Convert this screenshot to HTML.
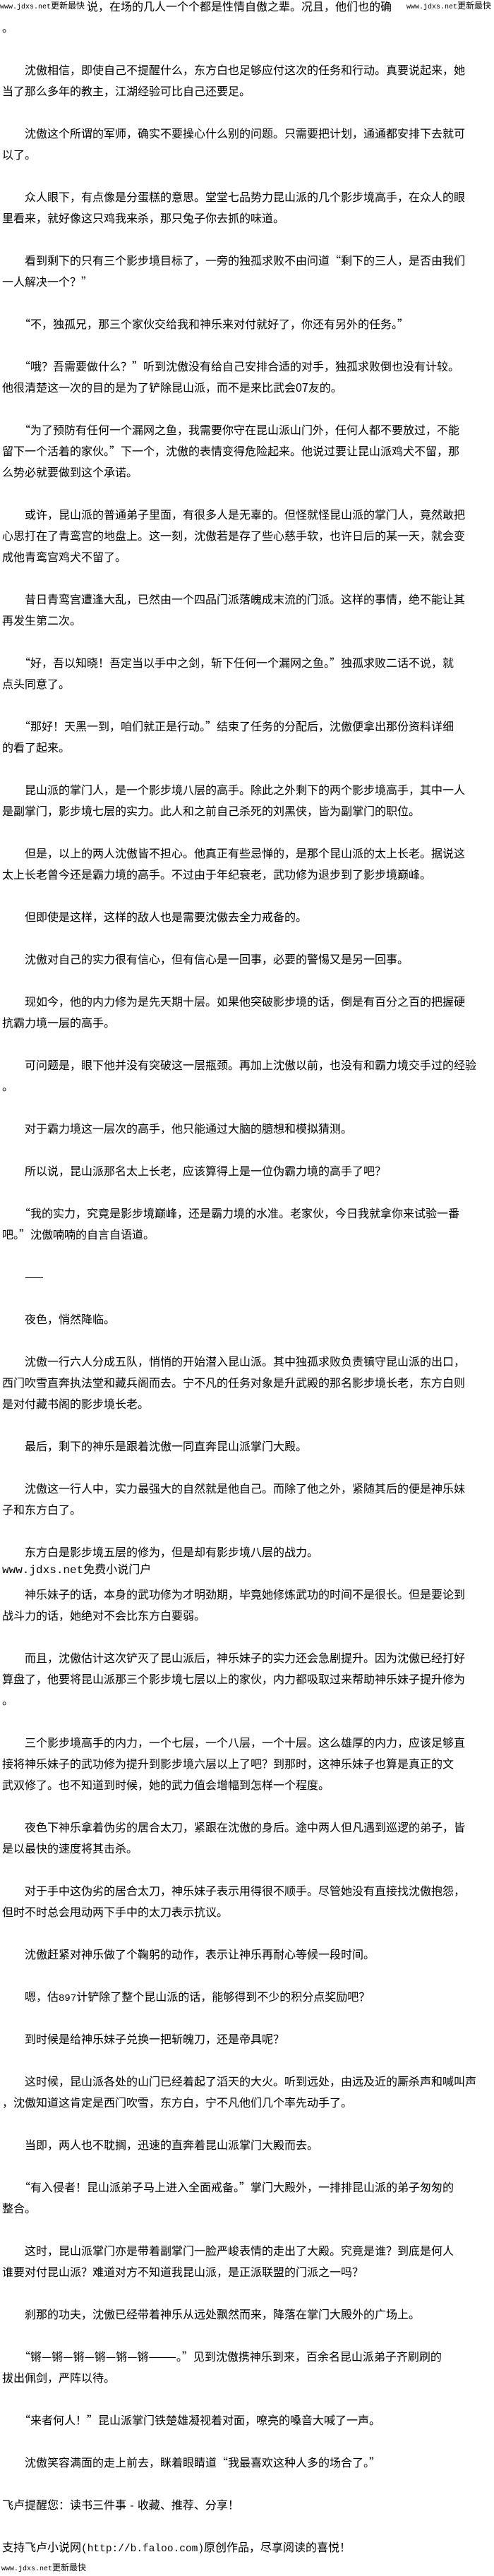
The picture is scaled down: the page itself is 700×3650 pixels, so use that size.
<!DOCTYPE html>
<html><head><meta charset="utf-8">
<style>
html,body{margin:0;padding:0;background:#fff;}
body{width:700px;height:3650px;position:relative;overflow:hidden;font-family:"Noto Sans CJK SC","Liberation Sans",sans-serif;color:#000;}
.l{position:absolute;left:3px;height:30px;line-height:30px;font-size:16px;white-space:pre;}
.m{font-family:"Liberation Mono","Noto Sans CJK SC",monospace;}
.wm{position:absolute;background:#fff;font-size:12px;line-height:16px;white-space:pre;}
.wm .m{font-size:10px;}
</style></head><body>
<div class="l" style="top:-7px;left:123px">说，在场的几人一个个都是性情自傲之辈。况且，他们也的确</div>
<div class="wm" style="top:0;left:0"><span class="m">www.jdxs.net</span>更新最快</div>
<div class="wm" style="top:0;left:576px;width:124px"><span class="m">www.jdxs.net</span>更新最快</div>
<div class="l" style="top:23px">。</div>
<div class="l" style="top:83px">　　沈傲相信，即使自己不提醒什么，东方白也足够应付这次的任务和行动。真要说起来，她</div>
<div class="l" style="top:113px">当了那么多年的教主，江湖经验可比自己还要足。</div>
<div class="l" style="top:173px">　　沈傲这个所谓的军师，确实不要操心什么别的问题。只需要把计划，通通都安排下去就可</div>
<div class="l" style="top:203px">以了。</div>
<div class="l" style="top:263px">　　众人眼下，有点像是分蛋糕的意思。堂堂七品势力昆山派的几个影步境高手，在众人的眼</div>
<div class="l" style="top:293px">里看来，就好像这只鸡我来杀，那只兔子你去抓的味道。</div>
<div class="l" style="top:353px">　　看到剩下的只有三个影步境目标了，一旁的独孤求败不由问道“剩下的三人，是否由我们</div>
<div class="l" style="top:383px">一人解决一个？”</div>
<div class="l" style="top:443px">　　“不，独孤兄，那三个家伙交给我和神乐来对付就好了，你还有另外的任务。”</div>
<div class="l" style="top:503px">　　“哦？吾需要做什么？”听到沈傲没有给自己安排合适的对手，独孤求败倒也没有计较。</div>
<div class="l" style="top:533px">他很清楚这一次的目的是为了铲除昆山派，而不是来比武会07友的。</div>
<div class="l" style="top:593px">　　“为了预防有任何一个漏网之鱼，我需要你守在昆山派山门外，任何人都不要放过，不能</div>
<div class="l" style="top:623px">留下一个活着的家伙。”下一个，沈傲的表情变得危险起来。他说过要让昆山派鸡犬不留，那</div>
<div class="l" style="top:653px">么势必就要做到这个承诺。</div>
<div class="l" style="top:713px">　　或许，昆山派的普通弟子里面，有很多人是无辜的。但怪就怪昆山派的掌门人，竟然敢把</div>
<div class="l" style="top:743px">心思打在了青鸾宫的地盘上。这一刻，沈傲若是存了些心慈手软，也许日后的某一天，就会变</div>
<div class="l" style="top:773px">成他青鸾宫鸡犬不留了。</div>
<div class="l" style="top:833px">　　昔日青鸾宫遭逢大乱，已然由一个四品门派落魄成末流的门派。这样的事情，绝不能让其</div>
<div class="l" style="top:863px">再发生第二次。</div>
<div class="l" style="top:923px">　　“好，吾以知晓！吾定当以手中之剑，斩下任何一个漏网之鱼。”独孤求败二话不说，就</div>
<div class="l" style="top:953px">点头同意了。</div>
<div class="l" style="top:1013px">　　“那好！天黑一到，咱们就正是行动。”结束了任务的分配后，沈傲便拿出那份资料详细</div>
<div class="l" style="top:1043px">的看了起来。</div>
<div class="l" style="top:1103px">　　昆山派的掌门人，是一个影步境八层的高手。除此之外剩下的两个影步境高手，其中一人</div>
<div class="l" style="top:1133px">是副掌门，影步境七层的实力。此人和之前自己杀死的刘黑侠，皆为副掌门的职位。</div>
<div class="l" style="top:1193px">　　但是，以上的两人沈傲皆不担心。他真正有些忌惮的，是那个昆山派的太上长老。据说这</div>
<div class="l" style="top:1223px">太上长老曾今还是霸力境的高手。不过由于年纪衰老，武功修为退步到了影步境巅峰。</div>
<div class="l" style="top:1283px">　　但即使是这样，这样的敌人也是需要沈傲去全力戒备的。</div>
<div class="l" style="top:1343px">　　沈傲对自己的实力很有信心，但有信心是一回事，必要的警惕又是另一回事。</div>
<div class="l" style="top:1403px">　　现如今，他的内力修为是先天期十层。如果他突破影步境的话，倒是有百分之百的把握硬</div>
<div class="l" style="top:1433px">抗霸力境一层的高手。</div>
<div class="l" style="top:1493px">　　可问题是，眼下他并没有突破这一层瓶颈。再加上沈傲以前，也没有和霸力境交手过的经验</div>
<div class="l" style="top:1523px">。</div>
<div class="l" style="top:1583px">　　对于霸力境这一层次的高手，他只能通过大脑的臆想和模拟猜测。</div>
<div class="l" style="top:1643px">　　所以说，昆山派那名太上长老，应该算得上是一位伪霸力境的高手了吧？</div>
<div class="l" style="top:1703px">　　“我的实力，究竟是影步境巅峰，还是霸力境的水准。老家伙，今日我就拿你来试验一番</div>
<div class="l" style="top:1733px">吧。”沈傲喃喃的自言自语道。</div>
<div class="l" style="top:1793px">　　——</div>
<div class="l" style="top:1853px">　　夜色，悄然降临。</div>
<div class="l" style="top:1913px">　　沈傲一行六人分成五队，悄悄的开始潜入昆山派。其中独孤求败负责镇守昆山派的出口，</div>
<div class="l" style="top:1943px">西门吹雪直奔执法堂和藏兵阁而去。宁不凡的任务对象是升武殿的那名影步境长老，东方白则</div>
<div class="l" style="top:1973px">是对付藏书阁的影步境长老。</div>
<div class="l" style="top:2033px">　　最后，剩下的神乐是跟着沈傲一同直奔昆山派掌门大殿。</div>
<div class="l" style="top:2093px">　　沈傲这一行人中，实力最强大的自然就是他自己。而除了他之外，紧随其后的便是神乐妹</div>
<div class="l" style="top:2123px">子和东方白了。</div>
<div class="l" style="top:2183px">　　东方白是影步境五层的修为，但是却有影步境八层的战力。</div>
<div class="l" style="top:2207px"><span class="m">www.jdxs.net</span>免费小说门户</div>
<div class="l" style="top:2243px">　　神乐妹子的话，本身的武功修为才明劲期，毕竟她修炼武功的时间不是很长。但是要论到</div>
<div class="l" style="top:2273px">战斗力的话，她绝对不会比东方白要弱。</div>
<div class="l" style="top:2333px">　　而且，沈傲估计这次铲灭了昆山派后，神乐妹子的实力还会急剧提升。因为沈傲已经打好</div>
<div class="l" style="top:2363px">算盘了，他要将昆山派那三个影步境七层以上的家伙，内力都吸取过来帮助神乐妹子提升修为</div>
<div class="l" style="top:2393px">。</div>
<div class="l" style="top:2453px">　　三个影步境高手的内力，一个七层，一个八层，一个十层。这么雄厚的内力，应该足够直</div>
<div class="l" style="top:2483px">接将神乐妹子的武功修为提升到影步境六层以上了吧？到那时，这神乐妹子也算是真正的文</div>
<div class="l" style="top:2513px">武双修了。也不知道到时候，她的武力值会增幅到怎样一个程度。</div>
<div class="l" style="top:2573px">　　夜色下神乐拿着伪劣的居合太刀，紧跟在沈傲的身后。途中两人但凡遇到巡逻的弟子，皆</div>
<div class="l" style="top:2603px">是以最快的速度将其击杀。</div>
<div class="l" style="top:2663px">　　对于手中这伪劣的居合太刀，神乐妹子表示用得很不顺手。尽管她没有直接找沈傲抱怨，</div>
<div class="l" style="top:2693px">但时不时总会甩动两下手中的太刀表示抗议。</div>
<div class="l" style="top:2753px">　　沈傲赶紧对神乐做了个鞠躬的动作，表示让神乐再耐心等候一段时间。</div>
<div class="l" style="top:2813px">　　嗯，估<span class="m" style="font-size:14px">897</span>计铲除了整个昆山派的话，能够得到不少的积分点奖励吧？</div>
<div class="l" style="top:2873px">　　到时候是给神乐妹子兑换一把斩魄刀，还是帝具呢？</div>
<div class="l" style="top:2933px">　　这时候，昆山派各处的山门已经着起了滔天的大火。听到远处，由远及近的厮杀声和喊叫声</div>
<div class="l" style="top:2963px">，沈傲知道这肯定是西门吹雪，东方白，宁不凡他们几个率先动手了。</div>
<div class="l" style="top:3023px">　　当即，两人也不耽搁，迅速的直奔着昆山派掌门大殿而去。</div>
<div class="l" style="top:3083px">　　“有入侵者！昆山派弟子马上进入全面戒备。”掌门大殿外，一排排昆山派的弟子匆匆的</div>
<div class="l" style="top:3113px">整合。</div>
<div class="l" style="top:3173px">　　这时，昆山派掌门亦是带着副掌门一脸严峻表情的走出了大殿。究竟是谁？到底是何人</div>
<div class="l" style="top:3203px">谁要对付昆山派？难道对方不知道我昆山派，是正派联盟的门派之一吗？</div>
<div class="l" style="top:3263px">　　刹那的功夫，沈傲已经带着神乐从远处飘然而来，降落在掌门大殿外的广场上。</div>
<div class="l" style="top:3323px">　　“锵—锵—锵—锵—锵—锵———。”见到沈傲携神乐到来，百余名昆山派弟子齐刷刷的</div>
<div class="l" style="top:3353px">拔出佩剑，严阵以待。</div>
<div class="l" style="top:3413px">　　“来者何人！”昆山派掌门铁楚雄凝视着对面，嘹亮的嗓音大喊了一声。</div>
<div class="l" style="top:3473px">　　沈傲笑容满面的走上前去，眯着眼睛道“我最喜欢这种人多的场合了。”</div>
<div class="l" style="top:3533px">飞卢提醒您：读书三件事 <span class="m" style="font-size:14.5px">-</span> 收藏、推荐、分享！</div>
<div class="l" style="top:3593px">支持飞卢小说网<span class="m" style="font-size:14.5px">(http://b.faloo.com)</span>原创作品，尽享阅读的喜悦！</div>
<div class="wm" style="top:3630px;left:2px"><span class="m">www.jdxs.net</span>更新最快</div>
</body></html>
